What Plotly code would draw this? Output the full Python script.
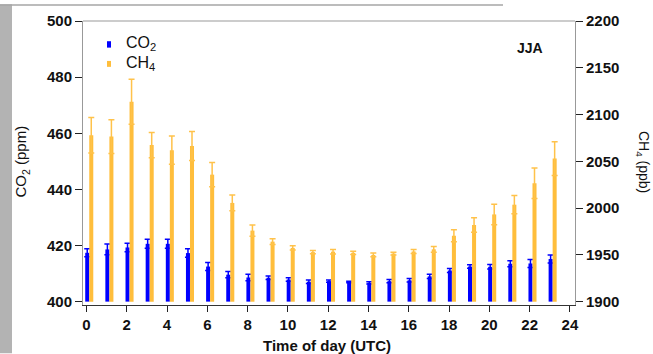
import plotly.graph_objects as go

# Diurnal cycle, summer (JJA) composite
hours = list(range(24))
co2_ppm = [417.4, 418.6, 419.3, 420.6, 420.6, 417.3, 412.5, 409.6, 408.6, 408.5,
           407.9, 407.1, 407.3, 407.0, 406.7, 407.3, 407.6, 409.0, 411.1, 412.5,
           412.4, 413.5, 413.6, 415.2]
co2_err = [1.4, 1.9, 1.5, 1.6, 1.6, 1.5, 1.4, 1.1, 1.2, 0.6, 0.6, 0.6, 0.4, 0.3,
           0.4, 0.6, 0.6, 0.8, 0.7, 0.6, 0.8, 1.1, 1.4, 1.4]
ch4_ppb = [2078, 2076.5, 2113.7, 2067.4, 2062, 2066.3, 2035.8, 2005.6, 1976, 1964.2,
           1957.5, 1953, 1953.5, 1952.3, 1950, 1951.5, 1953.7, 1956, 1970.5, 1982,
           1993.3, 2003.7, 2026.6, 2053]
ch4_err = [19, 18, 24, 13.5, 15, 15.5, 13, 8.5, 6, 3, 2.3, 1.8, 2.4, 1.7, 2,
           1.5, 2.2, 3, 6.5, 7.8, 11, 9.8, 16.2, 18]

x_ticks = list(range(0, 25, 2))
co2_ticks = list(range(400, 501, 20))
ch4_ticks = list(range(1900, 2201, 50))

CO2_BASE = 400
CH4_BASE = 1900
BLUE = "#0000ff"
ORANGE = "#ffbe3c"
FONT = "Liberation Sans"

W, H = 653, 354
L, R, T, B = 83, 575, 17, 305  # plot-area edges in pixels


def px(x):
    return (x - L) / (R - L)


def py(y):
    return (B - y) / (B - T)


fig = go.Figure()

fig.add_trace(go.Bar(
    x=[h + 0.04 for h in hours],
    y=[v - CO2_BASE for v in co2_ppm],
    base=CO2_BASE,
    width=0.2,
    marker=dict(color=BLUE, line=dict(width=0)),
    error_y=dict(type="data", array=co2_err, color=BLUE, thickness=1.5, width=3),
    name="CO2",
    yaxis="y",
))
fig.add_trace(go.Bar(
    x=[h + 0.24 for h in hours],
    y=[v - CH4_BASE for v in ch4_ppb],
    base=CH4_BASE,
    width=0.2,
    marker=dict(color=ORANGE, line=dict(width=0)),
    error_y=dict(type="data", array=ch4_err, color="#ffc24a", thickness=1.5, width=3),
    name="CH4",
    yaxis="y2",
))

tickfont = dict(family=FONT, size=15, color="#111", weight="bold")

fig.update_layout(
    width=W, height=H,
    margin=dict(l=L, r=W - R, t=T, b=H - B, pad=0),
    paper_bgcolor="white", plot_bgcolor="white",
    barmode="overlay",
    showlegend=False,
    xaxis=dict(
        range=[-0.17, 24.25], tickvals=x_ticks, ticks="outside", ticklen=6,
        tickcolor="#222", showline=True, linecolor="#333", linewidth=1,
        showgrid=False, zeroline=False, tickfont=tickfont,
    ),
    yaxis=dict(
        range=[398.8, 500], tickvals=co2_ticks, ticks="outside", ticklen=7,
        tickcolor="#222", showline=True, linecolor="#999", linewidth=1,
        showgrid=False, zeroline=False, tickfont=tickfont,
    ),
    yaxis2=dict(
        range=[1896.5, 2200], tickvals=ch4_ticks, ticks="outside", ticklen=7,
        tickcolor="#222", showline=True, linecolor="#999", linewidth=1,
        showgrid=False, zeroline=False, tickfont=tickfont,
        overlaying="y", side="right",
    ),
)

shapes = [
    # grey strip on the left edge and thin grey rule along the top
    dict(type="rect", xref="paper", yref="paper", x0=px(0), x1=px(12), y0=py(354), y1=py(0),
         fillcolor="#b3b3b3", line=dict(width=0), layer="below"),
    dict(type="rect", xref="paper", yref="paper", x0=px(0), x1=px(503), y0=py(1.5), y1=py(0),
         fillcolor="#a6a6a6", line=dict(width=0), layer="below"),
    # top frame
    dict(type="line", xref="paper", yref="paper", x0=0, x1=1, y0=1, y1=1,
         line=dict(color="#999", width=1)),
    # legend keys
    dict(type="rect", xref="paper", yref="paper", x0=px(107), x1=px(111), y0=py(44), y1=py(37.5),
         fillcolor=BLUE, line=dict(width=0)),
    dict(type="rect", xref="paper", yref="paper", x0=px(107), x1=px(111), y0=py(63.5), y1=py(57.5),
         fillcolor=ORANGE, line=dict(width=0)),
]
fig.update_layout(shapes=shapes)

ann = [
    dict(text="CO<sub>2</sub>", x=px(124), y=py(40), xanchor="left", yanchor="middle",
         font=dict(family=FONT, size=16, color="#111")),
    dict(text="CH<sub>4</sub>", x=px(124), y=py(60), xanchor="left", yanchor="middle",
         font=dict(family=FONT, size=16, color="#111")),
    dict(text="<b>JJA</b>", x=px(529.5), y=py(44), xanchor="center", yanchor="middle",
         font=dict(family=FONT, size=14, color="#111")),
    dict(text="<b>Time of day (UTC)</b>", x=px(327), y=py(346), xanchor="center", yanchor="middle",
         font=dict(family=FONT, size=15, color="#111")),
    dict(text="CO<sub>2</sub> (ppm)", x=px(21.5), y=py(160), xanchor="center", yanchor="middle",
         textangle=-90, font=dict(family=FONT, size=15, color="#111")),
    dict(text="CH<sub>4</sub> (ppb)", x=px(643), y=py(160), xanchor="center", yanchor="middle",
         textangle=90, font=dict(family=FONT, size=14, color="#111")),
]
for a in ann:
    a.update(xref="paper", yref="paper", showarrow=False)
fig.update_layout(annotations=ann)

fig.write_html("out.html")
